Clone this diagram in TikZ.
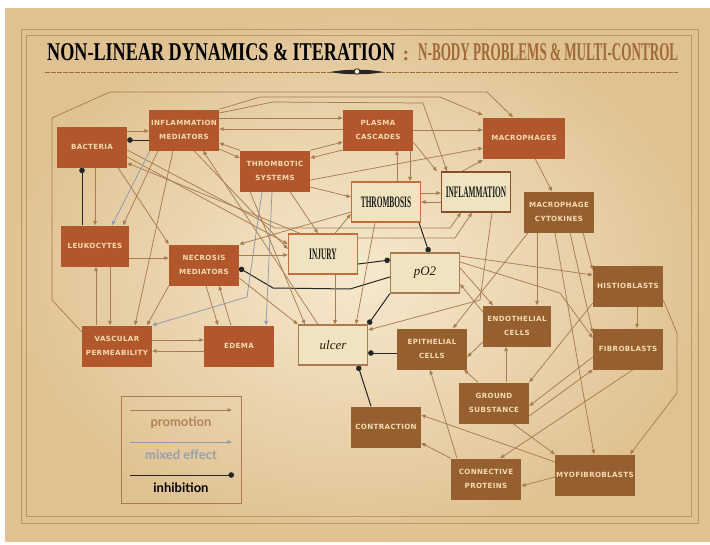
\documentclass[tikz,border=0pt]{standalone}
\usepackage{fontspec}
\usepackage{graphicx}
\usetikzlibrary{arrows.meta,calc}
\setmainfont{Liberation Serif}
\newfontfamily\boxfont[LetterSpace=5]{DejaVu Sans}
\newfontfamily\legfont{Lato}
\newcommand\cond[1]{\scalebox{0.46}[1]{#1}}
\definecolor{parch}{RGB}{224,194,146}
\definecolor{parchL}{RGB}{246,233,206}
\definecolor{framec}{RGB}{190,150,100}
\definecolor{dk}{RGB}{178,86,44}
\definecolor{lt}{RGB}{150,95,48}
\definecolor{cream}{RGB}{240,228,192}
\definecolor{crb}{RGB}{195,110,60}
\definecolor{boxtxt}{RGB}{246,218,176}
\definecolor{proc}{RGB}{168,124,80}
\definecolor{mixc}{RGB}{140,155,172}
\definecolor{titleb}{RGB}{160,105,55}
\definecolor{legpro}{RGB}{176,132,88}
\definecolor{legmix}{RGB}{150,160,170}
\pgfdeclarelayer{back}
\pgfdeclarelayer{bg}
\pgfsetlayers{back,bg,main}
\begin{document}
\begin{tikzpicture}[x=1pt,y=-1pt,
  dkb/.style={fill=dk, minimum width=70pt, minimum height=41pt, text=boxtxt,
    font=\boxfont\bfseries\fontsize{7.1}{14}\selectfont, align=center, inner sep=1pt},
  ltb/.style={dkb, fill=lt},
  crb/.style={fill=cream, draw=crb, line width=1.3pt, minimum width=69pt, minimum height=40pt,
    text=black!90, font=\bfseries\fontsize{16}{16}\selectfont, inner sep=1pt},
  pro/.style={draw=proc, line width=0.75pt, -{Triangle[length=4.5pt,width=3.6pt]}},
  mix/.style={draw=mixc, line width=0.75pt, -{Triangle[length=4.5pt,width=3.6pt]}},
  inh/.style={draw=black!85, line width=1pt, -{Circle[length=5.5pt]}},
  legtext/.style={font=\legfont\bfseries\fontsize{13}{13}\selectfont, inner sep=0pt},
  frame/.style={draw=framec, line width=0.8pt}]
\useasboundingbox (0,0) rectangle (710,544);
\begin{pgfonlayer}{back}
\fill[white] (0,0) rectangle (710,544);
\fill[parch] (5,8) rectangle (710,541);
\shade[inner color=parchL, outer color=parch] (5,8) rectangle (710,541);
\draw[frame] (21,29) rectangle (698,523);
\draw[frame] (26,35) rectangle (691,516);
% ornament
\draw[titleb, line width=0.6pt, dash pattern=on 5pt off 1pt] (45,72) -- (335,72);
\draw[titleb, line width=0.6pt, dash pattern=on 5pt off 1pt] (380,72) -- (678,72);
\fill[black!85] (330,72) .. controls (340,70.3) and (348,69.6) .. (356,70) -- (356,74) .. controls (348,74.4) and (340,73.7) .. (330,72) -- cycle;
\fill[black!85] (384,72) .. controls (374,70.3) and (366,69.6) .. (358,70) -- (358,74) .. controls (366,74.4) and (374,73.7) .. (384,72) -- cycle;
\filldraw[fill=parchL, draw=black!85, line width=0.8pt] (357,71.5) circle (2.8);
\end{pgfonlayer}

% title
\node[anchor=south west, inner sep=0] (t1) at (47,61) {\resizebox{348pt}{17pt}{\bfseries NON-LINEAR DYNAMICS \& ITERATION}};
\node[anchor=south, inner sep=0, text=titleb] (tc) at (406,61) {\fontsize{20}{20}\selectfont\bfseries :};
\node[anchor=south west, inner sep=0, text=titleb] (t2) at (418,61) {\resizebox{260pt}{17pt}{\bfseries N-BODY PROBLEMS \& MULTI-CONTROL}};

% nodes
\node[dkb] (bac) at (92,147) {BACTERIA};
\node[dkb] (im) at (184,130) {INFLAMMATION\\MEDIATORS};
\node[dkb] (ts) at (275,171) {THROMBOTIC\\SYSTEMS};
\node[dkb] (pc) at (378,130) {PLASMA\\CASCADES};
\node[dkb, minimum width=82pt] (mac) at (524,138) {MACROPHAGES};
\node[dkb, minimum width=68pt] (leu) at (95,246) {LEUKOCYTES};
\node[dkb] (nm) at (204,265) {NECROSIS\\MEDIATORS};
\node[dkb] (vp) at (117,346) {VASCULAR\\PERMEABILITY};
\node[dkb] (ed) at (239,346) {EDEMA};
\node[ltb] (mc) at (559,212) {MACROPHAGE\\CYTOKINES};
\node[ltb] (ep) at (432,349) {EPITHELIAL\\CELLS};
\node[ltb, minimum width=68pt] (en) at (517,326) {ENDOTHELIAL\\CELLS};
\node[ltb] (hi) at (628,286) {HISTIOBLASTS};
\node[ltb] (fi) at (628,349) {FIBROBLASTS};
\node[ltb] (gs) at (494,403) {GROUND\\SUBSTANCE};
\node[ltb] (co) at (386,427) {CONTRACTION};
\node[ltb] (cp) at (486,479) {CONNECTIVE\\PROTEINS};
\node[ltb, minimum width=77pt] (my) at (595,475) {MYOFIBROBLASTS};
\node[crb] (tb) at (386,202) {\cond{THROMBOSIS}};
\node[crb, draw=black!30!crb] (inf) at (476,192) {\cond{INFLAMMATION}};
\node[crb] (inj) at (323,254) {\cond{INJURY}};
\node[crb, draw=proc, font=\itshape\fontsize{13}{13}\selectfont, text=black!80!brown] (po) at (425,273) {pO2};
\node[crb, draw=proc, font=\itshape\fontsize{13}{13}\selectfont, text=black!80!brown] (ul) at (333,345) {ulcer};

% legend
\node[draw=proc, line width=0.7pt, minimum width=120pt, minimum height=107pt, inner sep=0] (leg) at (181,449.5) {};
\coordinate (l1a) at (130,410); \coordinate (l1b) at (232,410);
\coordinate (l2a) at (130,442); \coordinate (l2b) at (232,442);
\coordinate (l3a) at (130,475); \coordinate (l3b) at (234,475);
\draw[pro] (l1a) -- (l1b);
\draw[mix] (l2a) -- (l2b);
\draw[inh] (l3a) -- (l3b);
\node[legtext, text=legpro] (lg1) at (181,423) {promotion};
\node[legtext, text=legmix] (lg2) at (181,455) {mixed effect};
\node[legtext, text=black] (lg3) at (181,488) {inhibition};

\begin{pgfonlayer}{bg}
% inhibition
\draw[inh] (im.west |- 0,140) -- (bac.east |- 0,140);
\draw[inh] (leu.north -| 82,0) -- (bac.south -| 82,0);
\draw[inh] (tb.south -| 419,0) -- (po.north -| 429,0);
\draw[inh] (inj.east |- 0,264) -- (po.west |- 0,260);
\draw[inh] (po.west |- 0,277) -- (350,289) -- (273,288) -- (nm.east |- 0,268);
\draw[inh] (po.south west) -- (ul.north east);
\draw[inh] (ep.west |- 0,353) -- (ul.east |- 0,353);
\draw[inh] (co.north -| 371,0) -- (ul.south -| 358,0);
% top
\draw[pro] (vp.west |- 0,332) -- (52,300) -- (52,118) -- (110,92) -- (487,92) -- (mac.north -| 513,0);
\draw[pro] (im.east |- 0,113) -- (273,102) -- (423,103) -- (inf.north -| 447,0);
\draw[pro] (im.north east) -- (260,97) -- (440,97) -- (mac.west |- 0,115);
\draw[pro] (pc.east |- 0,130) -- (mac.west |- 0,130);
\draw[pro] (ts.east |- 0,180) -- (mac.west |- 0,148);
\draw[pro] (inf.north -| 462,0) -- (mac.west |- 0,160);
\draw[pro] (pc.east |- 0,142) -- (inf.north -| 437,0);
\draw[pro] (tb.east |- 0,193) -- (inf.west |- 0,193);
\draw[pro] (inf.west |- 0,202) -- (tb.east |- 0,202);
\draw[pro] (tb.north -| 397,0) -- (pc.south -| 397,0);
\draw[pro] (pc.south -| 410,0) -- (tb.north -| 410,0);
\draw[pro] (ts.north west) -- (im.east |- 0,143);
\draw[pro] (im.east |- 0,149) -- (ts.west |- 0,158);
\draw[pro] (ts.north east) -- (pc.west |- 0,142);
\draw[pro] (pc.west |- 0,150) -- (ts.east |- 0,158);
\draw[pro] (im.east |- 0,118) -- (pc.west |- 0,118);
\draw[pro] (pc.west |- 0,129) -- (im.east |- 0,129);
\draw[pro] (bac.east |- 0,131) -- (im.west |- 0,131);
\draw[pro] (ts.east |- 0,187) -- (tb.west |- 0,197);
\draw[pro] (inj.north -| 335,0) -- (tb.west |- 0,214);
\draw[pro] (bac.east |- 0,150) -- (275,228) -- (450,228) -- (inf.south -| 461,0);
\draw[pro] (bac.east |- 0,157) -- (inj.west |- 0,244);
\draw[pro] (inj.north -| 300,0) -- (bac.east |- 0,163);
\draw[pro] (inj.east |- 0,238) -- (455,238) -- (inf.south -| 472,0);
\draw[pro] (inf.south -| 492,0) -- (480,300) -- (ul.east |- 0,330);
% right
\draw[pro] (mc.south -| 528,0) -- (ep.north -| 453,0);
\draw[pro] (mc.south -| 537,0) -- (en.north -| 537,0);
\draw[pro] (mc.south -| 555,0) -- (my.north -| 594,0);
\draw[pro] (mc.south -| 570,0) -- (fi.west |- 0,333);
\draw[pro] (mc.south -| 583,0) -- (hi.west |- 0,270);
\draw[pro] (mac.south -| 535,0) -- (mc.north -| 552,0);
\draw[pro] (po.east |- 0,256) -- (hi.west |- 0,275);
\draw[pro] (po.east |- 0,262) -- (560,293) -- (fi.west |- 0,338);
\draw[pro] (po.east |- 0,268) -- (en.north -| 493,0);
\draw[pro] (en.west |- 0,312) -- (po.east |- 0,284);
\draw[pro] (hi.south -| 637,0) -- (fi.north -| 637,0);
\draw[pro] (hi.east |- 0,300) -- (677,333) -- (677,393) -- (my.north -| 630,0);
\draw[pro] (hi.west |- 0,303) -- (gs.north east);
\draw[pro] (fi.west |- 0,357) -- (gs.east |- 0,406);
\draw[pro] (gs.east |- 0,416) -- (fi.south west);
\draw[pro] (fi.south -| 633,0) -- (cp.north -| 500,0);
\draw[pro] (gs.south -| 513,0) -- (my.north west);
\draw[pro] (my.west |- 0,477) -- (cp.east |- 0,486);
\draw[pro] (gs.north -| 506,0) -- (en.south -| 506,0);
\draw[pro] (gs.north -| 478,0) -- (ep.south -| 464,0);
\draw[pro] (en.west |- 0,342) -- (ep.east |- 0,357);
\draw[pro] (cp.north -| 457,0) -- (ep.south -| 430,0);
\draw[pro] (my.west |- 0,462) -- (co.east |- 0,415);
\draw[pro] (cp.north west) -- (co.east |- 0,443);
% left
\draw[pro] (bac.south -| 95,0) -- (leu.north -| 95,0);
\draw[pro] (bac.south -| 118,0) -- (nm.north west);
\draw[pro] (im.south -| 158,0) -- (leu.north -| 123,0);
\draw[mix] (im.south -| 150,0) -- (leu.north -| 112,0);
\draw[pro] (im.south -| 173,0) -- (vp.north -| 135,0);
\draw[pro] (ul.north -| 318,0) -- (im.south -| 203,0);
\draw[pro] (im.south -| 194,0) -- (inj.west |- 0,249);
\draw[pro] (leu.east |- 0,258) -- (nm.west |- 0,258);
\draw[pro] (vp.north -| 96,0) -- (leu.south -| 96,0);
\draw[pro] (leu.south -| 110,0) -- (vp.north -| 110,0);
\draw[pro] (vp.east |- 0,340) -- (ed.west |- 0,340);
\draw[pro] (ed.west |- 0,351) -- (vp.east |- 0,351);
\draw[pro] (nm.south -| 206,0) -- (ed.north -| 218,0);
\draw[pro] (ed.north -| 231,0) -- (nm.south -| 219,0);
\draw[pro] (nm.south west) -- (vp.north -| 147,0);
\draw[mix] (ts.south -| 262,0) -- (247,297) -- (vp.north east);
\draw[mix] (ts.south -| 272,0) -- (ed.north -| 266,0);
\draw[pro] (nm.east |- 0,278) -- (ul.north west);
\draw[pro] (ts.south -| 250,0) -- (ul.north -| 305,0);
\draw[pro] (inj.south -| 335,0) -- (ul.north -| 335,0);
\draw[pro] (tb.south -| 375,0) -- (ul.north -| 356,0);
\draw[pro] (ts.south -| 290,0) -- (inj.north -| 318,0);
\draw[pro] (tb.west |- 0,212) -- (nm.north east);
\draw[pro] (nm.east |- 0,255) -- (inj.west |- 0,255);
\end{pgfonlayer}
\end{tikzpicture}
\end{document}
